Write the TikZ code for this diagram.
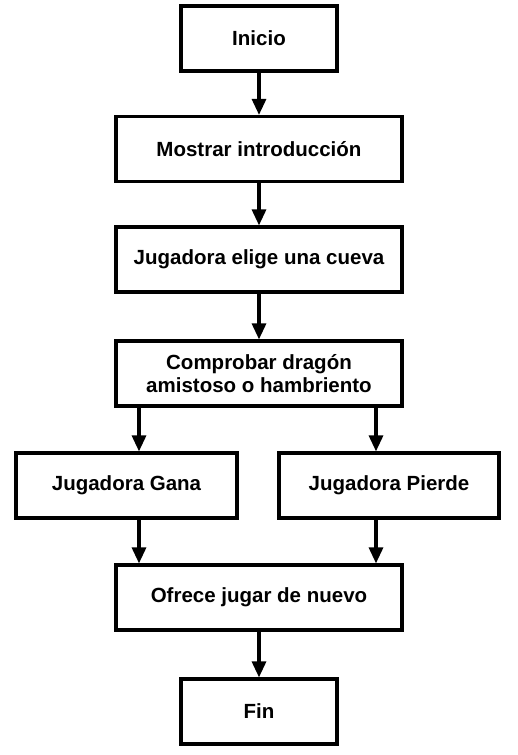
\documentclass[tikz,border=0pt]{standalone}
\usepackage{fontspec}
\setmainfont{Liberation Sans}
\usetikzlibrary{arrows.meta}
\begin{document}
\begin{tikzpicture}[x=1pt,y=-1pt,
  box/.style={draw=black,line width=3.2pt,fill=white,inner sep=0pt,align=center,
    font=\fontsize{20.5}{23.5}\selectfont\bfseries},
  arr/.style={line width=3.2pt,-{Triangle[length=16pt,width=14pt]}}]
\useasboundingbox[fill=white] (0,0) rectangle (518,755);
\node[box,minimum width=156pt,minimum height=65pt] (ini) at (259,38.5) {Inicio};
\node[box,minimum width=286pt,minimum height=65pt] (mos) at (259,149) {Mostrar introducción};
\node[box,minimum width=286pt,minimum height=65pt] (eli) at (259,259.5) {Jugadora elige una cueva};
\node[box,minimum width=286pt,minimum height=65pt] (com) at (259,373.5) {Comprobar dragón\\amistoso o hambriento};
\node[box,minimum width=221pt,minimum height=65pt] (gan) at (126.5,485.5) {Jugadora Gana};
\node[box,minimum width=220pt,minimum height=65pt] (pie) at (389,485.5) {Jugadora Pierde};
\node[box,minimum width=286pt,minimum height=65pt] (ofr) at (259,597.5) {Ofrece jugar de nuevo};
\node[box,minimum width=156pt,minimum height=65pt] (fin) at (259,711.5) {Fin};
\draw[arr] (ini) -- (mos);
\draw[arr] (mos) -- (eli);
\draw[arr] (eli) -- (com);
\draw[arr] (com.south -| 139,0) -- (gan.north -| 139,0);
\draw[arr] (com.south -| 376,0) -- (pie.north -| 376,0);
\draw[arr] (gan.south -| 139,0) -- (ofr.north -| 139,0);
\draw[arr] (pie.south -| 376,0) -- (ofr.north -| 376,0);
\draw[arr] (ofr) -- (fin);
\end{tikzpicture}
\end{document}
